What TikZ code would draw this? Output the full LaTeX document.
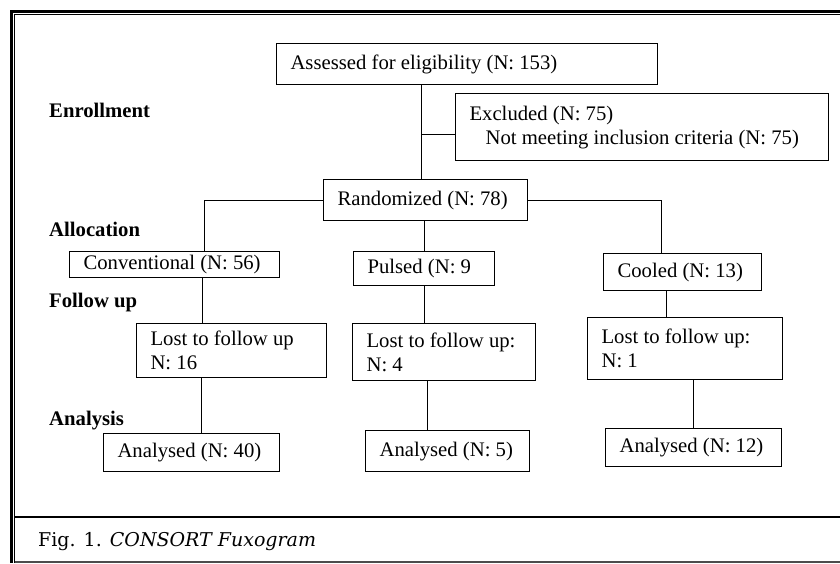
\documentclass[tikz,border=0pt]{standalone}
\usepackage{fontspec}
\setmainfont{Liberation Serif}
\newfontfamily\capfont{DejaVu Serif}
\usepackage{tikz}

\tikzset{
  box/.style={draw, line width=1.1pt, align=flush left, inner xsep=14pt, inner ysep=2pt,
    anchor=north west, font=\fontsize{20.7}{24}\selectfont},
  phase/.style={anchor=base west, inner sep=0pt, font=\fontsize{20.7}{24}\selectfont\bfseries},
  link/.style={line width=1.1pt}
}

\begin{document}
\begin{tikzpicture}[x=1pt, y=-1pt]
  \useasboundingbox (0,0) rectangle (840,563);

  % Rahmen
  \begin{scope}[line width=1pt]
    \draw[line width=2.5pt] (11.5,563) -- (11.5,11.5) -- (840,11.5);
    \draw (14.8,563) -- (14.8,14.8) -- (840,14.8);
    \draw[line width=1.2pt] (14.8,517) -- (840,517);
    \draw[line width=1.2pt, black!70] (14.8,562) -- (840,562);
  \end{scope}

  \node[phase] (enroll) at (49,117) {Enrollment};
  \node[phase] (alloc) at (49,236) {Allocation};
  \node[phase] (follow) at (49,307) {Follow up};
  \node[phase] (analysis) at (49,425) {Analysis};

  \node[box, text width=353pt, minimum height=41pt] (assess) at (276,43) {Assessed for eligibility (N: 153)};
  \node[box, text width=345pt, minimum height=67pt] (excl) at (455,93) {Excluded (N: 75)\\\hspace*{16pt}Not meeting inclusion criteria (N: 75)};
  \node[box, text width=176pt, minimum height=41pt] (rand) at (323,179) {Randomized (N: 78)};

  \node[box, text width=182pt, minimum height=26pt] (conv) at (69,251) {Conventional (N: 56)};
  \node[box, text width=113pt, minimum height=34pt] (pulsed) at (353,251) {Pulsed (N: 9};
  \node[box, text width=130pt, minimum height=37pt] (cooled) at (603,253) {Cooled (N: 13)};

  \node[box, text width=162pt, minimum height=54pt] (lostA) at (136,323) {Lost to follow up\\N: 16};
  \node[box, text width=155pt, minimum height=57pt] (lostB) at (352,323) {Lost to follow up:\\N: 4};
  \node[box, text width=167pt, minimum height=62pt] (lostC) at (587,317) {Lost to follow up:\\N: 1};

  \node[box, text width=148pt, minimum height=38pt] (anA) at (103,433) {Analysed (N: 40)};
  \node[box, text width=136pt, minimum height=41pt] (anB) at (365,430) {Analysed (N: 5)};
  \node[box, text width=148pt, minimum height=38pt] (anC) at (605,428) {Analysed (N: 12)};

  % Verbindungen
  \coordinate (trunk) at (421.5,0);
  \coordinate (exclIn) at ([yshift=-7.5pt]excl.west);
  \coordinate (convOut) at ([xshift=28pt]conv.south);
  \coordinate (coolOut) at ([xshift=-16pt]cooled.south);
  \coordinate (anAIn) at ([xshift=10pt]anA.north);
  \coordinate (anBIn) at ([xshift=-20pt]anB.north);

  \begin{scope}[link]
    \draw (assess.south -| trunk) -- (rand.north -| trunk);
    \draw (exclIn -| trunk) -- (exclIn);
    \draw (rand.west) -| ([xshift=30pt]conv.north);
    \draw (rand.east) -| ([xshift=-21pt]cooled.north);
    \draw (rand.south -| pulsed.north) -- (pulsed.north);
    \draw (convOut) -- (convOut |- lostA.north);
    \draw (pulsed.south) -- (pulsed.south |- lostB.north);
    \draw (coolOut) -- (coolOut |- lostC.north);
    \draw (anAIn |- lostA.south) -- (anAIn);
    \draw (anBIn |- lostB.south) -- (anBIn);
    \draw (lostC.south -| anC.north) -- (anC.north);
  \end{scope}

  \node[anchor=base west, inner sep=0pt, font=\capfont\fontsize{19}{24}\selectfont] (caption) at (38,546) {Fig. 1. \textit{CONSORT Fuxogram}};

\end{tikzpicture}
\end{document}
